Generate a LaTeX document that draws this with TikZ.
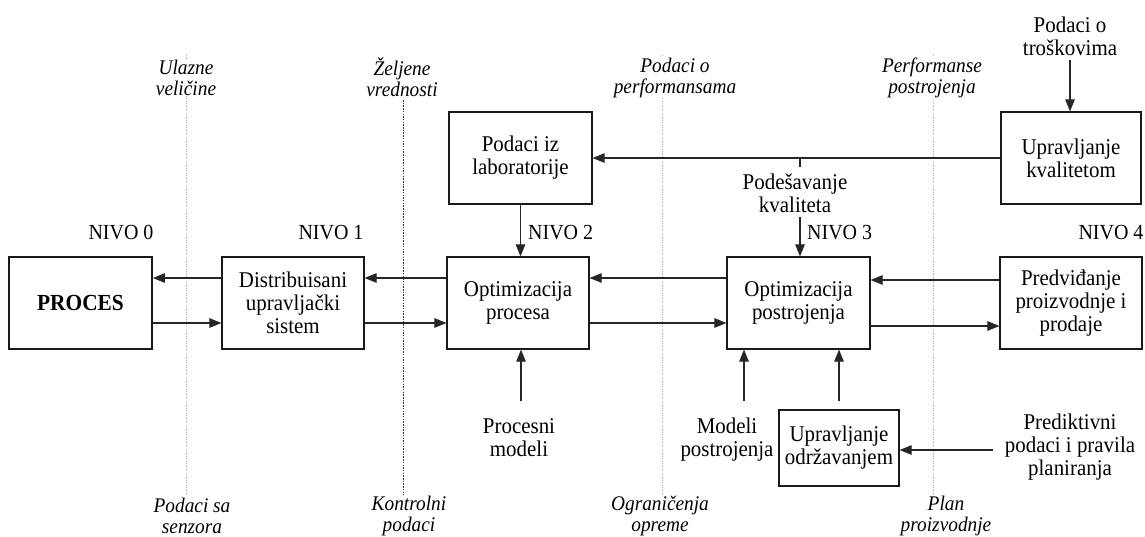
\documentclass[tikz,border=0pt]{standalone}
\usepackage{fontspec}
\setmainfont[FakeStretch=0.93]{Liberation Serif}
\usetikzlibrary{arrows.meta}
\tikzset{
  box/.style={draw=black!90, line width=1.2pt, minimum width=142pt, minimum height=92pt, inner sep=1pt, align=center, font=\fontsize{22.5}{23}\selectfont},
  txt/.style={inner sep=0pt, align=center, font=\fontsize{22.5}{23}\selectfont},
  ital/.style={inner sep=1pt, fill=white, align=center, font=\fontsize{20.8}{21}\selectfont\itshape},
  nivo/.style={inner sep=0pt, font=\fontsize{21.5}{23}\selectfont},
  arr/.style={draw=black!85, line width=1.1pt, -{Triangle[length=12pt,width=9.5pt]}},
  ln/.style={draw=black!85, line width=1.1pt},
  sep/.style={draw=black!30, line width=0.8pt, dash pattern=on 1.2pt off 1.2pt},
  sepdark/.style={draw=black!80, line width=0.6pt, dash pattern=on 1.5pt off 1.2pt}
}
\begin{document}
\begin{tikzpicture}[x=1pt,y=-1pt]
\useasboundingbox[fill=white] (0,0) rectangle (1145,536);
% separator lines
\draw[sep] (186,55) -- (186,495);
\draw[sepdark] (403,100) -- (403,495);
\draw[sep] (662,55) -- (662,495);
\draw[sep] (933,55) -- (933,495);
% separator labels
\node[ital] (ulz) at (186,77.5) {Ulazne\\veličine};
\node[ital] (zel) at (402,77.5) {Željene\\vrednosti};
\node[ital] (pop) at (675,77.5) {Podaci o\\performansama};
\node[ital] (pep) at (932,77.5) {Performanse\\postrojenja};
\node[ital] (pss) at (192,516) {Podaci sa\\senzora};
\node[ital] (kop) at (409,516) {Kontrolni\\podaci};
\node[ital] (ogr) at (660,516) {Ograničenja\\opreme};
\node[ital] (plp) at (946,516) {Plan\\proizvodnje};
% main row boxes
\node[box, minimum width=143pt, line width=1.8pt, font=\fontsize{23}{23}\selectfont\bfseries] (proces) at (80.5,303) {PROCES};
\node[box] (dcs) at (293,303) {Distribuisani\\upravljački\\sistem};
\node[box] (optp) at (518,303) {Optimizacija\\procesa};
\node[box, minimum width=143pt] (opts) at (798.5,303) {Optimizacija\\postrojenja};
\node[box] (pred) at (1071,303) {Predviđanje\\proizvodnje i\\prodaje};
% upper boxes
\node[box, minimum width=143pt] (lab) at (520.5,158) {Podaci iz\\laboratorije};
\node[box, minimum width=140pt] (uk) at (1071,158) {Upravljanje\\kvalitetom};
% lower box
\node[box, minimum width=120pt, minimum height=76pt] (um) at (839,448) {Upravljanje\\održavanjem};
% free texts
\node[txt] (trs) at (1070,36.5) {Podaci o\\troškovima};
\node[txt] (pk) at (795,193.5) {Podešavanje\\kvaliteta};
\node[txt] (pm) at (519,438) {Procesni\\modeli};
\node[txt] (mp) at (727,439.5) {Modeli\\postrojenja};
\node[txt] (pred2) at (1070,447) {Prediktivni\\podaci i pravila\\planiranja};
% level labels
\node[nivo] (n0) at (121,233) {NIVO 0};
\node[nivo] (n1) at (331,233) {NIVO 1};
\node[nivo, anchor=west] (n2) at (528,233) {NIVO 2};
\node[nivo, anchor=west] (n3) at (807,233) {NIVO 3};
\node[nivo] (n4) at (1111,233) {NIVO 4};
% helper coordinates
\coordinate (r1) at (0,278);
\coordinate (r2) at (0,323);
\coordinate (r3) at (0,280);
\coordinate (r4) at (0,326);
\coordinate (kt) at (800,158);
\coordinate (ktb) at (800,167);
\coordinate (ka) at (800,217);
\coordinate (pma) at (521,401);
\coordinate (mpa) at (744,401);
\coordinate (uma) at (839,401);
\coordinate (pra) at (993,450);
\coordinate (tra) at (1070,60);
% connectors
\draw[arr] (tra) -- (tra |- uk.north);
\draw[arr] (uk.west) -- (lab.east);
\draw[ln] (kt) -- (ktb);
\draw[arr] (ka) -- (ka |- opts.north);
\draw[arr] (lab.south) -- (lab.south |- optp.north);
\draw[arr] (dcs.west |- r1) -- (proces.east |- r1);
\draw[arr] (proces.east |- r2) -- (dcs.west |- r2);
\draw[arr] (optp.west |- r1) -- (dcs.east |- r1);
\draw[arr] (dcs.east |- r2) -- (optp.west |- r2);
\draw[arr] (opts.west |- r1) -- (optp.east |- r1);
\draw[arr] (optp.east |- r2) -- (opts.west |- r2);
\draw[arr] (pred.west |- r3) -- (opts.east |- r3);
\draw[arr] (opts.east |- r4) -- (pred.west |- r4);
\draw[arr] (pma) -- (pma |- optp.south);
\draw[arr] (mpa) -- (mpa |- opts.south);
\draw[arr] (uma) -- (uma |- opts.south);
\draw[arr] (pra) -- (pra -| um.east);
\end{tikzpicture}
\end{document}
